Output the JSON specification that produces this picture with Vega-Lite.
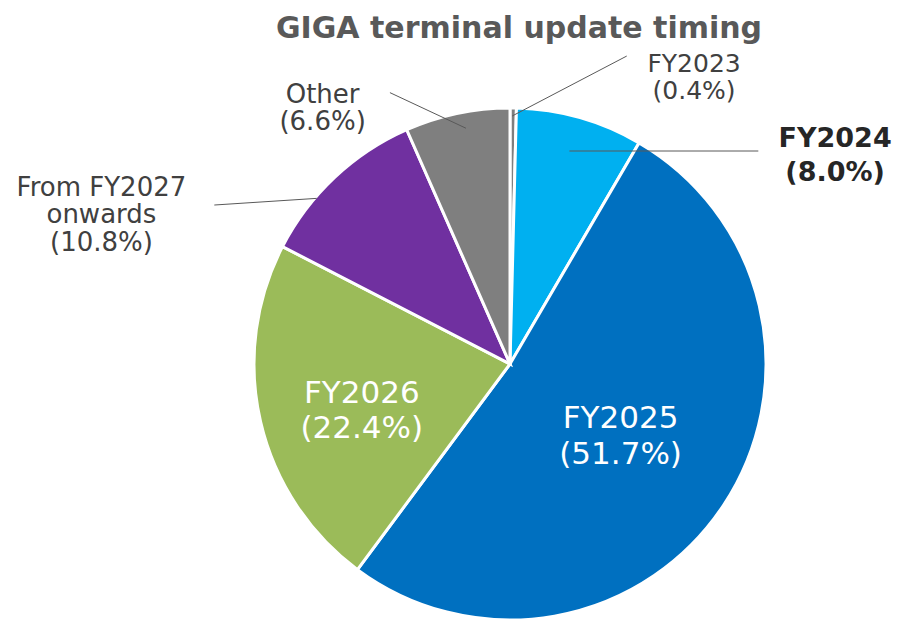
{
  "$schema": "https://vega.github.io/schema/vega-lite/v6.json",
  "autosize": {"type": "none"},
  "width": 784,
  "height": 512,
  "padding": {"left": 118, "top": 108, "right": 0, "bottom": 0},
  "background": "white",
  "config": {"view": {"stroke": null}, "font": "DejaVu Sans"},
  "title": {
    "text": "GIGA terminal update timing",
    "frame": "group",
    "anchor": "middle",
    "fontSize": 30,
    "fontWeight": "bold",
    "color": "#595959",
    "baseline": "alphabetic",
    "offset": -16,
    "dx": 9
  },
  "data": {
    "values": [
      {"cat": "FY2023", "pct": 0.4, "label": ["FY2023", "(0.4%)"]},
      {"cat": "FY2024", "pct": 8.0, "label": ["FY2024", "(8.0%)"]},
      {"cat": "FY2025", "pct": 51.7, "label": ["FY2025", "(51.7%)"]},
      {"cat": "FY2026", "pct": 22.4, "label": ["FY2026", "(22.4%)"]},
      {"cat": "From FY2027 onwards", "pct": 10.8, "label": ["From FY2027", "onwards", "(10.8%)"]},
      {"cat": "Other", "pct": 6.6, "label": ["Other", "(6.6%)"]}
    ]
  },
  "encoding": {},
  "layer": [
    {
      "mark": {"type": "arc", "stroke": "white", "strokeWidth": 3},
      "encoding": {
        "theta": {"field": "pct", "type": "quantitative", "stack": true},
        "order": {"field": "cat", "type": "nominal", "sort": "ascending"},
        "color": {
          "field": "cat",
          "type": "nominal",
          "legend": null,
          "scale": {
            "domain": ["FY2023", "FY2024", "FY2025", "FY2026", "From FY2027 onwards", "Other"],
            "range": ["#7F7F7F", "#00B0F0", "#0070C0", "#9BBB59", "#7030A0", "#7F7F7F"]
          }
        }
      }
    },
    {
      "transform": [{"filter": "datum.cat === 'FY2023'"}],
      "mark": {"type": "rule", "color": "#595959", "strokeWidth": 1},
      "encoding": {
        "x": {"datum": 0.9, "type": "quantitative", "scale": {"domain": [-153.125, 153.125], "nice": false, "zero": false}, "axis": null},
        "y": {"datum": 96.9, "type": "quantitative", "scale": {"domain": [-100, 100], "nice": false, "zero": false}, "axis": null},
        "x2": {"datum": 45.6},
        "y2": {"datum": 120.3}
      }
    },
    {
      "transform": [{"filter": "datum.cat === 'FY2024'"}],
      "mark": {"type": "rule", "color": "#595959", "strokeWidth": 1},
      "encoding": {
        "x": {"datum": 23.2, "type": "quantitative"},
        "y": {"datum": 83.2, "type": "quantitative"},
        "x2": {"datum": 97.0},
        "y2": {"datum": 83.2}
      }
    },
    {
      "transform": [{"filter": "datum.cat === 'From FY2027 onwards'"}],
      "mark": {"type": "rule", "color": "#595959", "strokeWidth": 1},
      "encoding": {
        "x": {"datum": -115.5, "type": "quantitative"},
        "y": {"datum": 62.1, "type": "quantitative"},
        "x2": {"datum": -75.5},
        "y2": {"datum": 64.7}
      }
    },
    {
      "transform": [{"filter": "datum.cat === 'Other'"}],
      "mark": {"type": "rule", "color": "#595959", "strokeWidth": 1},
      "encoding": {
        "x": {"datum": -46.9, "type": "quantitative"},
        "y": {"datum": 106.0, "type": "quantitative"},
        "x2": {"datum": -17.2},
        "y2": {"datum": 92.1}
      }
    },
    {
      "transform": [{"filter": "datum.cat === 'FY2023'"}],
      "mark": {"type": "text", "fontSize": 25, "color": "#404040", "align": "center", "baseline": "alphabetic", "lineHeight": 27},
      "encoding": {
        "x": {"datum": 71.9, "type": "quantitative"},
        "y": {"datum": 113.9, "type": "quantitative"},
        "text": {"field": "label"}
      }
    },
    {
      "transform": [{"filter": "datum.cat === 'FY2024'"}],
      "mark": {"type": "text", "fontSize": 27, "fontWeight": "bold", "color": "#262626", "align": "center", "baseline": "alphabetic", "lineHeight": 34},
      "encoding": {
        "x": {"datum": 127.0, "type": "quantitative"},
        "y": {"datum": 84.9, "type": "quantitative"},
        "text": {"field": "label"}
      }
    },
    {
      "transform": [{"filter": "datum.cat === 'FY2025'"}],
      "mark": {"type": "text", "fontSize": 31, "color": "white", "align": "center", "baseline": "alphabetic", "lineHeight": 36},
      "encoding": {
        "x": {"datum": 43.2, "type": "quantitative"},
        "y": {"datum": -24.9, "type": "quantitative"},
        "text": {"field": "label"}
      }
    },
    {
      "transform": [{"filter": "datum.cat === 'FY2026'"}],
      "mark": {"type": "text", "fontSize": 31, "color": "white", "align": "center", "baseline": "alphabetic", "lineHeight": 35},
      "encoding": {
        "x": {"datum": -57.9, "type": "quantitative"},
        "y": {"datum": -15.1, "type": "quantitative"},
        "text": {"field": "label"}
      }
    },
    {
      "transform": [{"filter": "datum.cat === 'From FY2027 onwards'"}],
      "mark": {"type": "text", "fontSize": 26, "color": "#404040", "align": "center", "baseline": "alphabetic", "lineHeight": 27.5},
      "encoding": {
        "x": {"datum": -159.6, "type": "quantitative"},
        "y": {"datum": 65.7, "type": "quantitative"},
        "text": {"field": "label"}
      }
    },
    {
      "transform": [{"filter": "datum.cat === 'Other'"}],
      "mark": {"type": "text", "fontSize": 26, "color": "#404040", "align": "center", "baseline": "alphabetic", "lineHeight": 27},
      "encoding": {
        "x": {"datum": -73.2, "type": "quantitative"},
        "y": {"datum": 102.1, "type": "quantitative"},
        "text": {"field": "label"}
      }
    }
  ]
}
